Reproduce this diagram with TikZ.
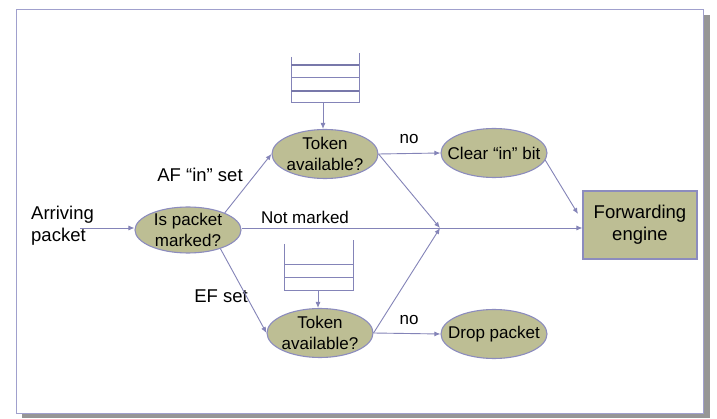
\documentclass[tikz,border=0pt]{standalone}
\usepackage{fontspec}
\setmainfont{Liberation Sans}
\usetikzlibrary{arrows.meta,shapes.geometric,calc}
\definecolor{nodefill}{RGB}{189,190,148}
\definecolor{nodeb}{RGB}{140,140,190}
\definecolor{linec}{RGB}{132,132,184}
\definecolor{qthick}{RGB}{120,120,170}
\definecolor{framec}{RGB}{160,160,205}
\definecolor{shadowc}{RGB}{150,150,150}
\begin{document}
\begin{tikzpicture}[x=1pt,y=-1pt,
  conn/.style={draw=linec, line width=0.9pt, -{Latex[length=6pt,width=5pt]}},
  dec/.style={ellipse, draw=nodeb, fill=nodefill, line width=1.1pt, minimum width=106pt, minimum height=49pt, inner sep=-12pt, align=center, font=\fontsize{17}{20.5}\selectfont},
  fbox/.style={rectangle, draw=nodeb, fill=nodefill, line width=1.1pt, minimum width=114pt, minimum height=68pt, inner sep=0pt, align=center, font=\fontsize{18.5}{22}\selectfont},
  lab/.style={font=\fontsize{18.5}{22}\selectfont, align=left, inner sep=0pt},
  smalllab/.style={font=\fontsize{17}{20}\selectfont, inner sep=0pt},
  qline/.style={draw=linec, line width=1pt},
  qline2/.style={draw=qthick, line width=1.8pt}]
\useasboundingbox (0,0) rectangle (717,419);
\fill[shadowc] (22,15) rectangle (710,418);
\draw[framec, fill=white, line width=0.8pt] (16,9) rectangle (703,413);

% nodes
\node[dec, minimum height=46pt] (isp) at (188,230) {Is packet\\marked?};
\node[dec] (tok1) at (325,154) {Token\\available?};
\node[dec] (tok2) at (320,333) {Token\\available?};
\node[dec] (clr) at (494,153) {Clear “in” bit};
\node[dec] (drop) at (494,334) {Drop packet};
\node[fbox] (fwd) at (640,225) {Forwarding\\engine};

% labels
\node[lab, anchor=west] (arr) at (31,226) {Arriving\\packet};
\node[lab] (af) at (200,175) {AF “in” set};
\node[lab] (ef) at (221,296) {EF set};
\node[smalllab] (nm) at (305,217) {Not marked};
\node[smalllab] (no1) at (409,139) {no};
\node[smalllab] (no2) at (409,320) {no};

% queues
\draw[qline] (291,57) -- (291,103) -- (359,103) -- (359,53);
\draw[qline2] (291,65) -- (359,65);
\draw[qline] (291,78) -- (359,78);
\draw[qline2] (291,91) -- (359,91);
\coordinate (q1) at (323,103);

\draw[qline] (284,244) -- (284,291) -- (353,291) -- (353,240);
\draw[qline] (284,265) -- (353,265);
\draw[qline] (284,278) -- (353,278);
\coordinate (q2) at (318,291);

% connectors
\coordinate (arrs) at (80,228);
\coordinate (conv) at (440,228);
\coordinate (fin) at (578,214);
\draw[conn] (arrs) -- (arrs -| isp.west);
\draw[conn] (isp.east |- conv) -- (fwd.west |- conv);
\draw[conn] (q1) -- (q1 |- tok1.north);
\draw[conn] (q2) -- (q2 |- tok2.north);
\draw[conn] (isp.25) -- (tok1.west);
\draw[conn] (isp.-30) -- (tok2.west);
\draw[conn] (tok1.east) -- (clr.west);
\draw[conn] (tok1.east) -- (conv);
\draw[conn] (tok2.east) -- (drop.west);
\draw[conn] (tok2.east) -- (conv);
\draw[conn] (clr.-8) -- (fin);
\end{tikzpicture}
\end{document}
